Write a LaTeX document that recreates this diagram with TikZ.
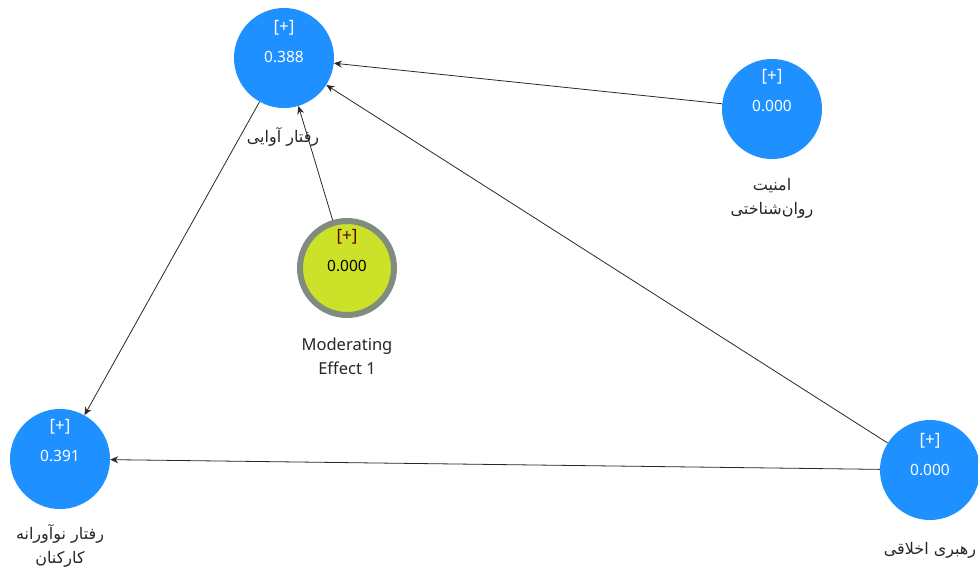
\documentclass[tikz,border=0pt]{standalone}
\usepackage{fontspec}
\setmainfont{Noto Sans}
\newfontfamily\arabicfont[Script=Arabic]{DejaVu Sans}
\TeXXeTstate=1
\usetikzlibrary{arrows.meta,calc}
\definecolor{lvblue}{RGB}{30,144,255}
\definecolor{lvyellow}{RGB}{204,226,40}
\definecolor{lvgray}{RGB}{128,140,128}
\definecolor{lvline}{RGB}{40,40,40}
\tikzset{
  lv/.style={circle, fill=lvblue, minimum size=100pt, inner sep=0pt},
  mod/.style={circle, fill=lvyellow, draw=lvgray, line width=6pt, minimum size=94pt, inner sep=0pt},
  plus/.style={font=\fontsize{17}{19}\selectfont, text=white, inner sep=0pt},
  val/.style={font=\fontsize{15.5}{17}\selectfont, text=white, inner sep=0pt},
  lbl/.style={font=\fontsize{16.5}{24}\selectfont, text=black!85, align=center, inner sep=0pt},
  arlbl/.style={font=\arabicfont\fontsize{16}{24}\selectfont, text=black!85, align=center, inner sep=0pt},
  path/.style={draw=lvline, line width=0.8pt, -{Stealth[length=8pt,width=7pt]}}
}
\begin{document}
\begin{tikzpicture}[x=1pt,y=-1pt]
\useasboundingbox (0,0) rectangle (978,570);
\node[lv] (A) at (284,58) {};
\node[lv] (B) at (772,109) {};
\node[mod] (M) at (347,268) {};
\node[lv] (C) at (60,459) {};
\node[lv] (D) at (930,470) {};

\node[plus] (Ap) at (284,28) {[+]};
\node[val] (Av) at (284,57) {0.388};
\node[plus] (Bp) at (772,77) {[+]};
\node[val] (Bv) at (772,106) {0.000};
\node[plus,text=red!40!black] (Mp) at (347,237) {[+]};
\node[val,text=black] (Mv) at (347,266) {0.000};
\node[plus] (Cp) at (60,427) {[+]};
\node[val] (Cv) at (60,456) {0.391};
\node[plus] (Dp) at (930,441) {[+]};
\node[val] (Dv) at (930,470) {0.000};

\node[arlbl] (Al) at (283,137) {\beginR رفتار آوایی\endR};
\node[arlbl] (Bl) at (772,198) {\beginR امنیت\endR\\\beginR روان‌شناختی\endR};
\node[lbl] (Ml) at (347,356) {Moderating\\Effect 1};
\node[arlbl] (Cl) at (60,546) {\beginR رفتار نوآورانه\endR\\\beginR کارکنان\endR};
\node[arlbl] (Dl) at (930,550) {\beginR رهبری اخلاقی\endR};

\draw[path] (B) -- (A);
\draw[path] (D) -- (A);
\draw[path] (M) -- (A);
\draw[path] (A) -- (C);
\draw[path] (D) -- (C);
\end{tikzpicture}
\end{document}
